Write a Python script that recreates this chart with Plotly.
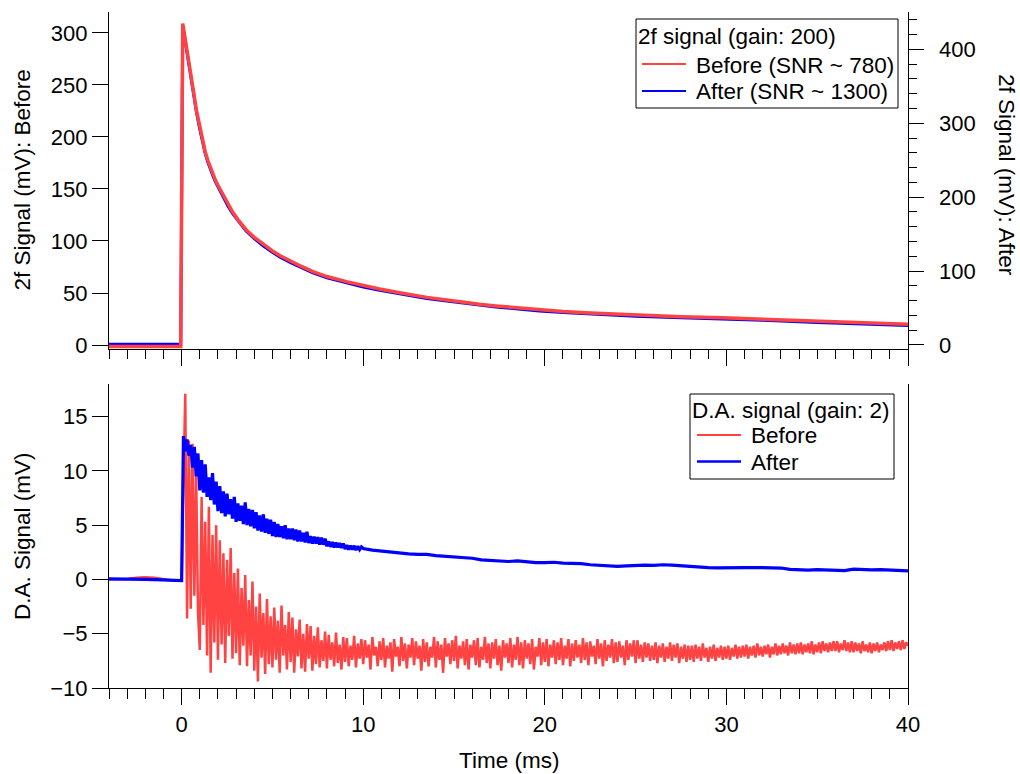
import plotly.graph_objects as go

# ---------------- Top panel: 2f signal ----------------
t_2f = [-4.0, -3.0, -2.0, -1.0, -0.05, 0.06, 0.22, 0.38, 0.53, 0.67, 0.81, 0.99, 1.17,
        1.3, 1.45, 1.6, 1.73, 1.87, 2.0, 2.25, 2.55, 2.8, 3.1, 3.56, 4.0, 4.5, 5.0, 5.4,
        6.0, 6.6, 7.23, 8.0, 9.07, 10.0, 10.9, 12.0, 12.7, 13.5, 14.6, 15.5, 16.4, 17.3,
        18.25, 19.7, 21.0, 22.5, 25.0, 27.5, 29.8, 32.0, 35.0, 38.0, 40.0]
before_2f = [-1.5, -1.5, -1.5, -1.5, -1.5, 309, 290, 274, 258, 242, 226, 210, 194,
             185.5, 177, 169.5, 163.5, 158, 153.5, 145, 135, 128, 120.5, 110.6, 103.5, 96.5, 90.5, 86,
             80.5, 75.5, 70.5, 65.8, 60.9, 57, 53.8, 50.2, 48, 45.8, 43.3, 41.1, 39.1, 37.6,
             36.2, 33.8, 32.2, 30.8, 28.8, 27.2, 26.1, 24.8, 22.7, 21.0, 19.9]
after_2f = [1.0, 1.2, 1.0, 1.1, 1.0, 432, 406, 383, 361, 338, 316, 293, 271,
            259, 247, 236, 228.5, 220.5, 214, 202, 188, 178, 168, 154, 144, 134, 125.5, 119,
            111.5, 104.5, 97.5, 91, 84, 78.5, 74, 69, 66, 63, 59.5, 56.5, 53.5, 51.5,
            49.5, 46, 44, 42, 39, 37, 35.5, 33.5, 30.5, 28, 26.4]

# ---------------- Bottom panel: D.A. signal ----------------
# pre-trigger baseline
t_da_pre = [-4.0, -3.5, -3.0, -2.5, -2.0, -1.5, -1.0, -0.5, -0.1]
before_da_pre = [0.0, 0.0, 0.05, 0.15, 0.2, 0.15, 0.0, -0.1, -0.1]
after_da_pre = [0.05, 0.02, 0.0, 0.0, 0.0, -0.02, -0.05, -0.1, -0.1]

# Before (red): samples every 0.1 ms from 0.0 to 40.0 ms (one row per ms)
before_da_rows = [
    [-0.1, 9.0, 17.1, -3.6, 12.8, -2.7, 12.5, -1.5, 9.8, -3.0],
    [-6.5, 7.6, -4.2, 5.3, -7.0, 6.7, -8.6, 4.1, -5.8, 5.0],
    [-7.4, 3.6, -6.0, 2.4, -7.7, 1.8, -5.2, 2.9, -7.3, 0.6],
    [-6.8, 1.0, -7.9, -0.8, -6.1, 0.4, -8.0, -1.9, -7.0, -0.2],
    [-8.4, -2.5, -9.4, -1.3, -7.2, -3.1, -8.7, -1.8, -7.8, -3.4],
    [-8.1, -2.6, -7.4, -3.8, -8.6, -2.4, -7.0, -4.2, -8.3, -3.0],
    [-7.6, -3.5, -8.6, -4.6, -7.1, -3.7, -8.2, -5.0, -8.5, -4.1],
    [-7.3, -4.3, -8.4, -5.2, -7.8, -4.4, -8.1, -5.6, -7.5, -4.8],
    [-8.2, -5.1, -7.4, -5.8, -8.0, -4.9, -7.7, -6.0, -8.3, -5.3],
    [-7.6, -5.4, -8.0, -6.1, -7.4, -5.2, -8.1, -5.9, -7.3, -5.5],
    [-7.8, -5.6, -7.2, -6.0, -8.3, -5.3, -7.0, -6.2, -8.0, -5.7],
    [-7.4, -5.4, -8.1, -6.1, -7.3, -5.8, -8.5, -5.5, -7.1, -6.2],
    [-8.0, -5.3, -7.5, -5.9, -8.2, -6.0, -7.2, -5.4, -7.9, -5.7],
    [-7.3, -6.1, -8.4, -5.5, -7.6, -5.8, -8.0, -6.2, -7.2, -5.3],
    [-8.1, -5.7, -7.4, -6.0, -8.6, -5.4, -7.1, -5.9, -7.8, -5.6],
    [-7.5, -5.2, -8.2, -6.1, -7.3, -5.7, -7.9, -5.5, -8.3, -6.0],
    [-7.2, -5.6, -7.9, -5.4, -8.1, -6.2, -7.4, -5.3, -7.7, -5.9],
    [-8.2, -5.8, -7.3, -5.5, -7.9, -6.1, -8.4, -5.6, -7.2, -5.9],
    [-7.7, -5.4, -8.1, -6.0, -7.4, -5.3, -7.9, -5.8, -8.2, -5.6],
    [-7.3, -5.9, -7.8, -5.5, -8.3, -6.2, -7.1, -5.4, -7.9, -5.8],
    [-7.6, -5.5, -8.0, -6.0, -7.2, -5.6, -7.8, -5.8, -7.4, -5.4],
    [-7.9, -6.1, -7.3, -5.5, -8.0, -5.9, -7.5, -5.6, -7.2, -6.0],
    [-7.7, -5.4, -7.4, -5.8, -7.9, -5.7, -7.1, -6.1, -7.8, -5.5],
    [-7.3, -5.9, -8.0, -5.6, -7.5, -6.0, -7.2, -5.5, -7.7, -5.8],
    [-7.6, -5.7, -7.2, -6.1, -7.9, -5.6, -7.4, -5.9, -7.1, -5.6],
    [-7.7, -5.6, -7.3, -6.0, -7.6, -5.8, -7.2, -5.9, -7.5, -6.1],
    [-7.4, -5.8, -7.7, -6.1, -7.2, -5.9, -7.6, -6.2, -7.3, -5.8],
    [-7.5, -6.0, -7.2, -5.9, -7.7, -6.2, -7.3, -6.0, -7.6, -6.1],
    [-7.4, -6.1, -7.6, -6.0, -7.3, -6.2, -7.5, -5.9, -7.2, -6.3],
    [-7.6, -6.2, -7.3, -6.0, -7.5, -6.3, -7.2, -6.1, -7.4, -6.2],
    [-7.3, -6.1, -7.4, -6.3, -7.1, -6.0, -7.3, -6.2, -7.2, -6.1],
    [-7.1, -6.0, -7.3, -6.2, -7.0, -6.1, -7.2, -5.9, -7.0, -6.2],
    [-7.1, -6.1, -6.9, -6.0, -7.2, -6.2, -6.9, -5.9, -7.0, -6.1],
    [-6.9, -5.9, -6.8, -6.1, -7.0, -5.8, -6.8, -6.0, -6.9, -5.9],
    [-6.8, -5.8, -6.9, -6.0, -6.7, -5.9, -6.8, -5.7, -6.9, -6.0],
    [-6.7, -5.8, -6.8, -5.7, -6.6, -5.9, -6.7, -5.8, -6.6, -5.7],
    [-6.6, -5.7, -6.7, -5.9, -6.5, -5.6, -6.6, -5.8, -6.7, -5.7],
    [-6.7, -5.8, -6.6, -5.9, -6.8, -5.7, -6.6, -6.0, -6.7, -5.8],
    [-6.8, -5.9, -6.6, -5.8, -6.7, -6.0, -6.5, -5.8, -6.6, -5.7],
    [-6.5, -5.6, -6.6, -5.8, -6.4, -5.7, -6.5, -5.6, -6.4, -5.8],
    [-6.1],
]

# After (blue): every 0.1 ms from 0.0 to 9.9 ms (one row per ms) ...
after_da_rows = [
    [-0.1, 13.2, 11.8, 12.9, 11.4, 12.4, 10.3, 12.2, 9.5, 11.6],
    [8.2, 11.0, 8.0, 10.6, 7.6, 9.4, 7.3, 9.8, 6.9, 9.0],
    [6.3, 8.6, 6.1, 8.1, 5.8, 7.9, 6.0, 7.4, 5.6, 7.6],
    [5.3, 7.0, 5.4, 6.8, 5.1, 7.1, 5.0, 6.5, 4.9, 6.4],
    [4.7, 6.2, 4.5, 5.9, 4.4, 6.0, 4.3, 5.6, 4.2, 5.5],
    [4.0, 5.3, 3.9, 5.1, 3.9, 4.9, 3.8, 5.0, 3.7, 4.7],
    [3.7, 4.7, 3.6, 4.6, 3.5, 4.5, 3.5, 4.3, 3.4, 4.4],
    [3.35, 4.0, 3.3, 3.95, 3.3, 3.9, 3.2, 3.85, 3.2, 3.75],
    [3.05, 3.5, 3.0, 3.45, 2.95, 3.4, 2.95, 3.35, 2.9, 3.3],
    [2.8, 3.15, 2.75, 3.1, 2.75, 3.1, 2.7, 3.05, 2.75, 3.0],
]
# ... then every 0.5 ms from 10.0 to 40.0 ms
after_da_tail = [2.85, 2.7, 2.6, 2.55, 2.4, 2.35, 2.3, 2.3, 2.2, 2.15,
                 2.05, 2.0, 1.95, 1.8, 1.75, 1.7, 1.65, 1.7, 1.6, 1.55,
                 1.55, 1.58, 1.5, 1.5, 1.45, 1.35, 1.3, 1.25, 1.2, 1.25,
                 1.3, 1.32, 1.3, 1.35, 1.32, 1.25, 1.2, 1.12, 1.08, 1.06,
                 1.05, 1.05, 1.08, 1.1, 1.1, 1.08, 1.05, 0.92, 0.88, 0.85,
                 0.9, 0.85, 0.8, 0.82, 0.95, 0.9, 0.88, 0.9, 0.88, 0.85,
                 0.78]

# axis tick values
right_ticks = [0, 100, 200, 300, 400]

# legend texts
legend1_title = "2f signal (gain: 200)"
legend1_names = ["Before (SNR ~ 780)", "After (SNR ~ 1300)"]
legend2_title = "D.A. signal (gain: 2)"
legend2_names = ["Before", "After"]

# sampling grids
before_da_vals = [v for row in before_da_rows for v in row]
t_before = t_da_pre + [round(0.1 * i, 1) for i in range(len(before_da_vals))]
y_before = before_da_pre + before_da_vals

after_head = [v for row in after_da_rows for v in row]
t_after = (t_da_pre + [round(0.1 * i, 1) for i in range(len(after_head))]
           + [10.0 + 0.5 * i for i in range(len(after_da_tail))])
y_after = after_da_pre + after_head + after_da_tail

RED = "rgb(255,66,66)"
BLUE = "rgb(0,0,255)"
FONT = "Liberation Sans, Arial, Helvetica, sans-serif"
FS = 22      # tick labels
FT = 22.5    # titles / legend text

fig = go.Figure()

# top panel: "After" on the base axis (right), "Before" on the overlaying axis (left) -> red on top
fig.add_trace(go.Scatter(x=t_2f, y=after_2f, mode="lines", name=legend1_names[1],
                         line=dict(color=BLUE, width=3), xaxis="x", yaxis="y", showlegend=False))
fig.add_trace(go.Scatter(x=t_2f, y=before_2f, mode="lines", name=legend1_names[0],
                         line=dict(color=RED, width=3.5), xaxis="x", yaxis="y2", showlegend=False))

# bottom panel
fig.add_trace(go.Scatter(x=t_before, y=y_before, mode="lines", name=legend2_names[0],
                         line=dict(color=RED, width=2.5), xaxis="x2", yaxis="y3", showlegend=False))
fig.add_trace(go.Scatter(x=t_after, y=y_after, mode="lines", name=legend2_names[1],
                         line=dict(color=BLUE, width=3.2), xaxis="x2", yaxis="y3", showlegend=False))

axis_common = dict(showline=True, linecolor="black", linewidth=1.2, ticks="outside",
                   tickcolor="black", tickwidth=1.2, showgrid=False, zeroline=False,
                   tickfont=dict(family=FONT, size=FS, color="black"))

top_dom = [0.5015, 1.0]
bot_dom = [0.0, 0.4497]

# plot-area geometry (pixels) used to place the legend boxes
L, R, T, B = 109, 908, 12, 688


def px(x):
    return (x - L) / (R - L)


def py(y):
    return (B - y) / (B - T)


def text_ann(text, x, y, size=FT, **kw):
    d = dict(text=text, xref="paper", yref="paper", x=x, y=y, showarrow=False,
             font=dict(family=FONT, size=size, color="black"),
             borderpad=0, borderwidth=0)
    d.update(kw)
    return d


shapes = [
    # legend 1 box + samples
    dict(type="rect", xref="paper", yref="paper", x0=px(636), x1=px(898), y0=py(108), y1=py(19),
         line=dict(color="black", width=1), fillcolor="white", layer="above"),
    dict(type="line", xref="paper", yref="paper", x0=px(642), x1=px(686), y0=py(64), y1=py(64),
         line=dict(color=RED, width=2)),
    dict(type="line", xref="paper", yref="paper", x0=px(642), x1=px(686), y0=py(91), y1=py(91),
         line=dict(color=BLUE, width=2)),
    # legend 2 box + samples
    dict(type="rect", xref="paper", yref="paper", x0=px(690), x1=px(894), y0=py(479), y1=py(394),
         line=dict(color="black", width=1), fillcolor="white", layer="above"),
    dict(type="line", xref="paper", yref="paper", x0=px(697), x1=px(741), y0=py(435), y1=py(435),
         line=dict(color=RED, width=2)),
    dict(type="line", xref="paper", yref="paper", x0=px(697), x1=px(741), y0=py(461.5), y1=py(461.5),
         line=dict(color=BLUE, width=2.5)),
]

annotations = [
    # axis titles
    text_ann("2f Signal (mV): Before", px(22), (top_dom[0] + top_dom[1]) / 2, textangle=-90,
             xanchor="center", yanchor="middle"),
    text_ann("2f Signal (mV): After", px(1006), py(175), textangle=90,
             xanchor="center", yanchor="middle"),
    text_ann("D.A. Signal (mV)", px(22), (bot_dom[0] + bot_dom[1]) / 2, textangle=-90,
             xanchor="center", yanchor="middle"),
    text_ann("Time (ms)", 0.5, py(760), xanchor="center", yanchor="middle"),
    # legend 1
    text_ann(legend1_title, px(638), py(36.5), xanchor="left", yanchor="middle"),
    text_ann(legend1_names[0], px(696), py(65), xanchor="left", yanchor="middle"),
    text_ann(legend1_names[1], px(696), py(91.5), xanchor="left", yanchor="middle"),
    # legend 2
    text_ann(legend2_title, px(692), py(410), xanchor="left", yanchor="middle"),
    text_ann(legend2_names[0], px(751), py(435.5), xanchor="left", yanchor="middle"),
    text_ann(legend2_names[1], px(751), py(462), xanchor="left", yanchor="middle"),
]

fig.update_layout(
    width=1020, height=774,
    margin=dict(l=L, r=1020 - R, t=T, b=774 - B),
    plot_bgcolor="white", paper_bgcolor="white",
    font=dict(family=FONT, size=FS, color="black"),
    showlegend=False,
    xaxis=dict(**axis_common, domain=[0, 1], anchor="y", range=[-4, 40],
               tick0=0, dtick=10, ticklen=16, showticklabels=False,
               minor=dict(dtick=1, ticklen=9, ticks="outside", tickcolor="black", tickwidth=1.2)),
    # right axis: After
    yaxis=dict(**axis_common, domain=top_dom, anchor="x", side="right",
               range=[-5.4, 450.5], tickmode="array", tickvals=right_ticks,
               ticktext=["\u00a0\u2009" + str(v) for v in right_ticks], ticklen=15,
               minor=dict(dtick=20, ticklen=8, ticks="outside", tickcolor="black", tickwidth=1.2)),
    # left axis: Before
    yaxis2=dict(**axis_common, overlaying="y", side="left", anchor="x",
                range=[-3.8, 320], tick0=0, dtick=50, ticklen=16),
    xaxis2=dict(**axis_common, domain=[0, 1], anchor="y3", range=[-4, 40],
                tick0=0, dtick=10, ticklen=16,
                minor=dict(dtick=1, ticklen=10, ticks="outside", tickcolor="black", tickwidth=1.2)),
    yaxis3=dict(**axis_common, domain=bot_dom, anchor="x2", range=[-10, 18],
                tick0=0, dtick=5, ticklen=16, mirror=True),
    shapes=shapes,
    annotations=annotations,
)

fig.write_html("out.html")
